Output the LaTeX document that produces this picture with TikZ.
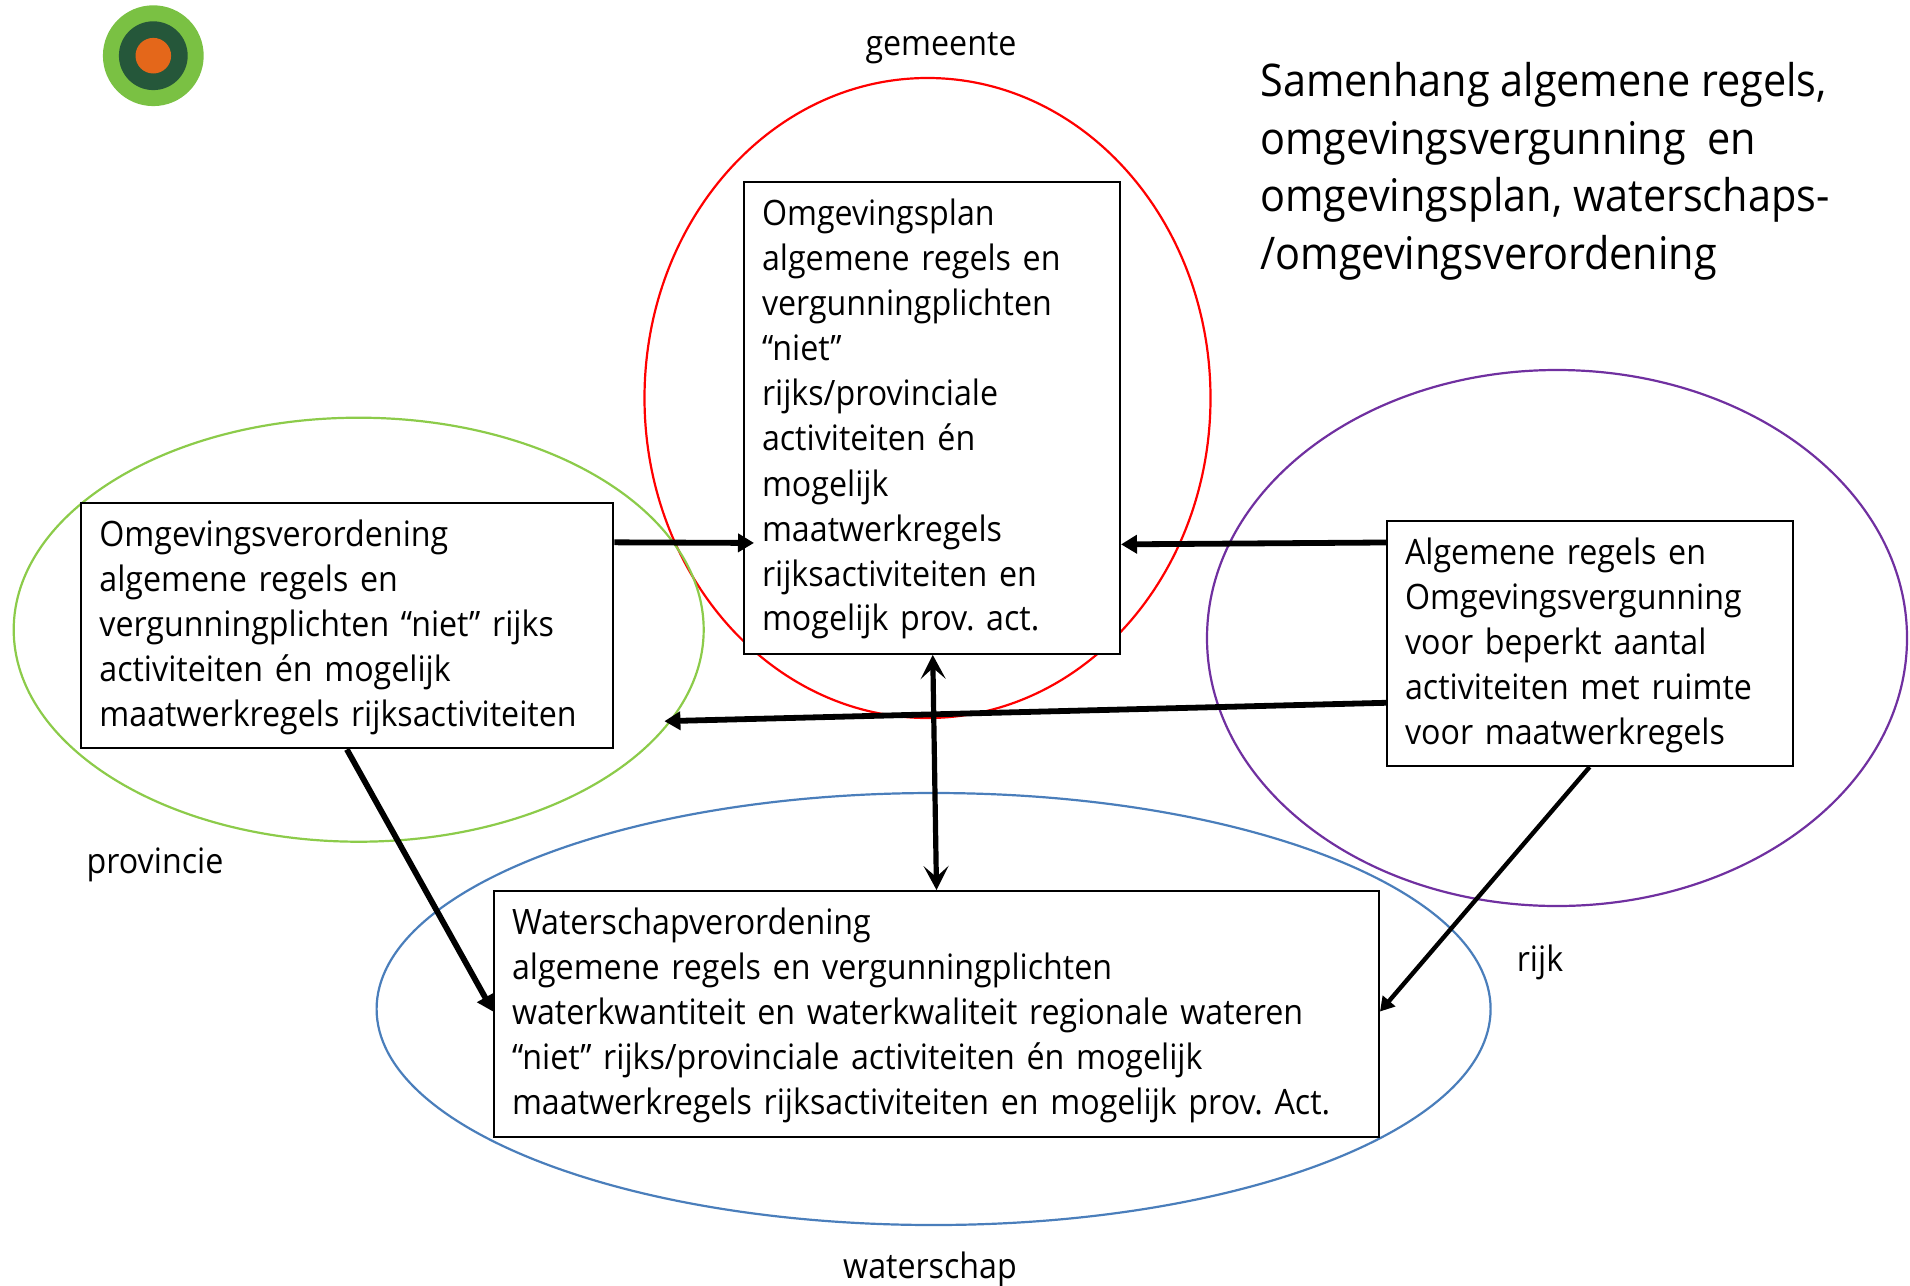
\documentclass[tikz,border=0pt]{standalone}
\usepackage{fontspec}
\setmainfont[FakeStretch=0.92]{Open Sans}
\frenchspacing
\usetikzlibrary{arrows.meta,calc}
\definecolor{logoOuter}{HTML}{7AC143}
\definecolor{logoMid}{HTML}{25573A}
\definecolor{logoIn}{HTML}{E4671A}
\definecolor{ringGreen}{HTML}{8CCB4A}
\definecolor{ringBlue}{HTML}{4A7EBB}
\definecolor{ringPurple}{HTML}{7030A0}
\newcommand{\firstline}{\rule{0pt}{15pt}}
\tikzset{
  x=0.5pt,y=-0.5pt,
  regelbox/.style={draw=black,fill=white,line width=1pt,inner xsep=9pt,inner ysep=0pt,align=left,anchor=north west,
    font=\fontsize{17.5}{22.5}\selectfont},
  lbl/.style={font=\fontsize{17.5}{22.5}\selectfont,inner sep=0pt},
  flow/.style={line width=2.9pt,-{Triangle[length=8pt,width=9pt]}},
  flowthin/.style={line width=2.2pt,-{Triangle[length=7pt,width=8pt]}},
  both/.style={line width=2.6pt,{Stealth[length=12pt,width=12.5pt,inset=5.5pt]}-{Stealth[length=12pt,width=12.5pt,inset=5.5pt]}},
}
\begin{document}
\begin{tikzpicture}
\useasboundingbox (0,0) rectangle (1910,1285);
% logo
\fill[logoOuter] (153.3,55.7) circle (25.2pt);
\fill[logoMid] (153.3,55.7) circle (17.2pt);
\fill[logoIn] (153.3,55.7) circle (8.9pt);
% rings
\draw[red,line width=1.1pt] (927.5,398) ellipse [x radius=141.5pt,y radius=160pt];
\draw[ringGreen,line width=1.1pt] (358.7,629.7) ellipse [x radius=172.5pt,y radius=106pt];
\draw[ringPurple,line width=1.1pt] (1557,638) ellipse [x radius=175pt,y radius=134pt];
\draw[ringBlue,line width=1.1pt] (933.6,1009) ellipse [x radius=278.5pt,y radius=108pt];
% boxes
\node[regelbox,text width=170pt,minimum height=236.2pt] (plan) at (743,180.5) {\firstline Omgevingsplan\\algemene regels en\\vergunningplichten\\“niet”\\rijks/provinciale\\activiteiten én\\mogelijk\\maatwerkregels\\rijksactiviteiten en\\mogelijk prov. act.};
\node[regelbox,text width=248pt,minimum height=122.7pt] (left) at (80.4,502) {\firstline Omgevingsverordening\\algemene regels en\\vergunningplichten “niet” rijks\\activiteiten én mogelijk\\maatwerkregels rijksactiviteiten};
\node[regelbox,text width=185pt,minimum height=122.5pt] (right) at (1386,520) {\firstline Algemene regels en\\Omgevingsvergunning\\voor beperkt aantal\\activiteiten met ruimte\\voor maatwerkregels};
\node[regelbox,text width=424.5pt,minimum height=123pt] (water) at (493,890) {\firstline Waterschapverordening\\algemene regels en vergunningplichten\\waterkwantiteit en waterkwaliteit regionale wateren\\“niet” rijks/provinciale activiteiten én mogelijk\\maatwerkregels rijksactiviteiten en mogelijk prov. Act.};
% labels
\node[lbl] (gemeente) at (941,48) {gemeente};
\node[lbl] (provincie) at (155,865) {provincie};
\node[lbl] (rijk) at (1540,962) {rijk};
\node[lbl] (waterschap) at (930,1269) {waterschap};
\node[anchor=north west,align=left,inner sep=0pt,font=\fontsize{22.5}{28.8}\selectfont] (title) at (1260,62) {Samenhang algemene regels,\\omgevingsvergunning\ \ en\\omgevingsplan, waterschaps-\\/omgevingsverordening};
% connectors
\coordinate (ltop) at ($(left.north east)!0.163!(left.south east)$);
\coordinate (pl) at ($(plan.north west)!0.764!(plan.south west)+(11,0)$);
\coordinate (pr) at ($(plan.north east)!0.767!(plan.south east)$);
\coordinate (rt) at ($(right.north west)!0.091!(right.south west)$);
\coordinate (rm) at ($(right.north west)!0.74!(right.south west)$);
\coordinate (lm) at ($(left.north east)!0.89!(left.south east)$);
\coordinate (ltarget) at ($(lm)+(50,-1)$);
\coordinate (pb) at ($(plan.south west)!0.502!(plan.south east)$);
\coordinate (wt) at ($(water.north west)!0.5!(water.north east)$);
\coordinate (ls) at ($(left.south west)!0.499!(left.south east)$);
\coordinate (wl) at ($(water.north west)!0.49!(water.south west)$);
\coordinate (rs) at ($(right.south west)!0.499!(right.south east)$);
\coordinate (wr) at ($(water.north east)!0.49!(water.south east)$);
\draw[flow] (ltop) -- (pl);
\draw[flow] (rt) -- (pr);
\draw[flow] (rm) -- (ltarget);
\draw[both] (pb) -- (wt);
\draw[flow] (ls) -- (wl);
\draw[flowthin] (rs) -- (wr);
\end{tikzpicture}
\end{document}
